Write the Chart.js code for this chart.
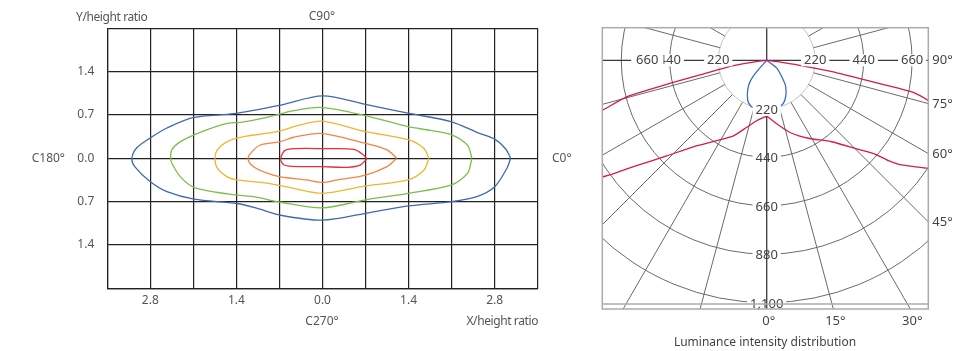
<!DOCTYPE html>
<html><head><meta charset="utf-8">
<script src="https://cdn.jsdelivr.net/npm/chart.js@4.4.1/dist/chart.umd.min.js"></script>
<style>
html,body{margin:0;padding:0;background:#fff;width:972px;height:351px;overflow:hidden;font-family:"Noto Sans","DejaVu Sans",sans-serif;}
canvas{position:absolute;}
.t{position:absolute;white-space:nowrap;color:#555;font-size:12px;line-height:14px;}
.n{letter-spacing:-0.4px;}
</style></head><body>
<canvas id="iso" width="580" height="351" style="left:0;top:0"></canvas>
<canvas id="polar" width="382" height="351" style="left:590px;top:0"></canvas>
<div class="t n" style="left:76px;top:10px">Y/height ratio</div>
<div class="t" style="left:322px;top:9px;transform:translateX(-50%)">C90°</div>
<div class="t" style="right:907px;top:151px">C180°</div>
<div class="t" style="left:552px;top:151px">C0°</div>
<div class="t" style="left:322px;top:314px;transform:translateX(-50%)">C270°</div>
<div class="t n" style="right:434px;top:314px">X/height ratio</div>
<div class="t" style="left:765px;top:335px;transform:translateX(-50%);color:#444">Luminance intensity distribution</div>
<script>
const FONT = '"Noto Sans", "DejaVu Sans", sans-serif';

// ---------- Isolux diagram (left) ----------
const xGridValues = [-3.5,-2.8,-2.1,-1.4,-0.7,0,0.7,1.4,2.1,2.8,3.5];
const yGridValues = [-2.1,-1.4,-0.7,0,0.7,1.4,2.1];
const xTickValues = [-2.8,-1.4,0,1.4,2.8];
const xTickLabels = ['2.8','1.4','0.0','1.4','2.8'];
const yTickValues = [-1.4,-0.7,0,0.7,1.4];
const yTickLabels = ['1.4','0.7','0.0','0.7','1.4'];

const contourBlueX = [3.06,2.98,2.80,2.51,2.10,1.39,0.70,0,-0.68,-1.44,-2.09,-2.53,-2.80,-3.02,-3.10,-3.05,-2.80,-2.53,-2.09,-1.39,-1.06,-0.68,0,0.70,1.39,2.10,2.51,2.80,3.00,3.06];
const contourBlueY = [0,0.15,0.31,0.42,0.59,0.73,0.87,1.01,0.86,0.72,0.66,0.49,0.33,0.17,0,-0.14,-0.38,-0.54,-0.66,-0.73,-0.81,-0.92,-1.00,-0.89,-0.77,-0.70,-0.62,-0.46,-0.16,0];
const contourGreenX = [2.43,2.36,2.10,1.76,1.39,0.70,0,-0.47,-0.90,-1.33,-1.55,-1.99,-2.31,-2.45,-2.47,-2.45,-2.31,-2.09,-1.55,-1.12,-0.68,0,0.70,1.39,2.10,2.36,2.43];
const contourGreenY = [0,0.21,0.38,0.45,0.51,0.69,0.82,0.77,0.66,0.58,0.565,0.42,0.27,0.14,0,-0.08,-0.30,-0.47,-0.575,-0.62,-0.71,-0.80,-0.67,-0.565,-0.43,-0.24,0];
const contourYellowX = [1.73,1.65,1.39,0.70,0,-0.36,-0.74,-1.28,-1.55,-1.71,-1.75,-1.71,-1.55,-1.39,-0.90,-0.47,0,0.70,1.39,1.65,1.73];
const contourYellowY = [0,0.16,0.30,0.43,0.60,0.54,0.43,0.35,0.27,0.135,0,-0.16,-0.30,-0.35,-0.40,-0.485,-0.565,-0.447,-0.35,-0.19,0];
const contourOrangeX = [1.21,1.05,0.70,0,-0.47,-0.68,-1.01,-1.17,-1.21,-1.12,-0.90,-0.68,-0.25,0,0.24,0.70,1.05,1.21];
const contourOrangeY = [0,0.135,0.24,0.40,0.34,0.27,0.215,0.08,-0.02,-0.135,-0.24,-0.30,-0.35,-0.39,-0.35,-0.27,-0.135,0];
const contourRedX = [0.72,0.66,0.51,0,-0.46,-0.62,-0.68,-0.63,-0.50,0,0.41,0.62,0.72];
const contourRedY = [-0.01,0.06,0.145,0.156,0.155,0.12,-0.02,-0.105,-0.13,-0.135,-0.145,-0.105,-0.01];

// ---------- Polar luminance diagram (right) ----------
const ringValues = [220,440,660,880,1100];
const radialAngles = [-165,-150,-135,-120,-105,-75,-60,-45,-30,-15,15,30,45,60,75,105,120,135,150,165];
const sideAngleLabels = [90,75,60,45];
const bottomAngleLabels = [0,15,30];
const redAngles = [0,-9.4,-16.6,-23.8,-31.9,-40.3,-46.3,-51.4,-54.6,-60,-66,-71,-73.1,-75.4,-76.0,-76.7,-77.6,-80.1,-81.8,0,82.4,81.5,80.1,78.7,78.0,77.5,76.0,72,66,60,56.2,52.2,50.5,49.1,45.1,38.6,28.1,18.9,10.2,0];
const redValues = [253,278,317,375,430,515,628,774,913,1080,1120,950,778,657,546,436,310,184,77,0,69,145,300,455,610,689,756,950,1100,1060,882,775,716,650,566,473,401,350,298,253];
const blueAngles = [0,-41.3,-38,-32.6,-25.6,-20.5,-16.6,-8,0,8,13.9,21.1,27.6,35.7,40.1,52,0];
const blueValues = [0,69,123,160,200,217,223,228,229,228,220,209,186,148,117,59,0];

function pts(xs, ys){ return xs.map((x,i)=>({x:x, y:ys[i]})); }
function polarPts(angles, values){
  return angles.map((a,i)=>{ const t=a*Math.PI/180; return {x: values[i]*Math.sin(t), y: -values[i]*Math.cos(t)}; });
}
function near(arr, v){ return arr.findIndex(a=>Math.abs(a-v)<1e-6); }

const contours = [
  {x: contourBlueX, y: contourBlueY, c: '#3f69b4'},
  {x: contourGreenX, y: contourGreenY, c: '#7bbf4a'},
  {x: contourYellowX, y: contourYellowY, c: '#f1b534'},
  {x: contourOrangeX, y: contourOrangeY, c: '#f48443'},
  {x: contourRedX, y: contourRedY, c: '#e5303b'}
];

new Chart(document.getElementById('iso'), {
  type: 'scatter',
  data: { datasets: contours.map(c=>({ data: pts(c.x,c.y), showLine: true, borderColor: c.c, borderWidth: 1.3, pointRadius: 0, tension: 0.3, fill: false })) },
  options: {
    responsive: false, animation: false, events: [],
    layout: { padding: { left: 0, right: 42.3, top: 28.3, bottom: 32.7 } },
    plugins: { legend: { display: false }, tooltip: { enabled: false } },
    scales: {
      x: { type: 'linear', min: -3.5, max: 3.5,
        afterBuildTicks: s => { s.ticks = xGridValues.map(v=>({value:v})); },
        afterFit: s => { s.height = 30; },
        grid: { color: '#222', lineWidth: 1.2, drawTicks: false },
        border: { color: '#222', width: 1.2 },
        ticks: { padding: 5, autoSkip: false, maxRotation: 0, color: '#555', font: { family: FONT, size: 12 },
          callback: v => { const i = near(xTickValues, v); return i < 0 ? '' : xTickLabels[i]; } } },
      y: { type: 'linear', min: -2.1, max: 2.1,
        afterBuildTicks: s => { s.ticks = yGridValues.map(v=>({value:v})); },
        afterFit: s => { s.width = 107.3; },
        grid: { color: '#222', lineWidth: 1.2, drawTicks: false },
        border: { color: '#222', width: 1.2 },
        ticks: { padding: 13, autoSkip: false, color: '#555', font: { family: FONT, size: 12 },
          callback: v => { const i = near(yTickValues, v); return i < 0 ? '' : yTickLabels[i]; } } }
    }
  }
});

const polarGrid = {
  id: 'polarGrid',
  beforeDatasetsDraw(chart) {
    const {ctx, chartArea: a, scales: {x, y}} = chart;
    const cx = x.getPixelForValue(0), cy = y.getPixelForValue(0);
    const k = (x.getPixelForValue(1000) - cx) / 1000;
    ctx.save();
    ctx.beginPath(); ctx.rect(a.left, a.top, a.right - a.left, a.bottom - a.top); ctx.clip();
    ctx.lineWidth = 1;
    ringValues.forEach((v, i) => {
      ctx.strokeStyle = i === 0 ? '#c4c4c4' : '#6a6a6a';
      ctx.beginPath(); ctx.arc(cx, cy, v * k, 0, Math.PI * 2); ctx.stroke();
    });
    ctx.strokeStyle = '#6a6a6a';
    const r0 = ringValues[0] * k, r1 = 4000 * k;
    radialAngles.forEach(ang => {
      const t = ang * Math.PI / 180, s = Math.sin(t), c = Math.cos(t);
      ctx.beginPath(); ctx.moveTo(cx + r0 * s, cy + r0 * c); ctx.lineTo(cx + r1 * s, cy + r1 * c); ctx.stroke();
    });
    ctx.strokeStyle = '#3a3a3a'; ctx.lineWidth = 1.3;
    ctx.beginPath(); ctx.moveTo(a.left, cy); ctx.lineTo(a.right, cy); ctx.stroke();
    ctx.beginPath(); ctx.moveTo(cx, a.top); ctx.lineTo(cx, cy); ctx.stroke();
    ctx.restore();
  },
  afterDatasetsDraw(chart) {
    const {ctx, chartArea: a, scales: {x, y}} = chart;
    const cx = x.getPixelForValue(0), cy = y.getPixelForValue(0);
    const k = (x.getPixelForValue(1000) - cx) / 1000;
    const fmt = v => v.toLocaleString('en-US');
    ctx.save();
    ctx.font = '13px ' + FONT; ctx.textAlign = 'center'; ctx.textBaseline = 'middle';
    const bg = (txt, px, py, pad) => { const w = ctx.measureText(txt).width; ctx.fillStyle = '#fff'; ctx.fillRect(px - w/2 - pad, py - 6, w + 2*pad, 12); };
    const tx = (txt, px, py) => { ctx.fillStyle = '#444'; ctx.fillText(txt, px, py + 0.5); };
    // vertical ring labels
    ringValues.forEach(v => bg(fmt(v), cx, cy + v * k + 1, 3));
    ctx.strokeStyle = '#3a3a3a'; ctx.lineWidth = 1.3;
    ctx.beginPath(); ctx.moveTo(cx, cy + ringValues[0] * k + 8); ctx.lineTo(cx, a.bottom); ctx.stroke();
    ringValues.forEach(v => tx(fmt(v), cx, cy + v * k + 1));
    // horizontal labels
    const hLab = ringValues.slice(0, 3);
    hLab.forEach(v => { bg(fmt(v), cx + v * k, cy, 3); tx(fmt(v), cx + v * k, cy); });
    hLab.forEach((v, i) => {
      const shifted = i === 2;
      const px = cx - v * k + (shifted ? 26 : 0);
      bg(fmt(v), px, cy, shifted ? 5 : 3); tx(fmt(v), px, cy);
    });
    // angle labels
    ctx.fillStyle = '#444'; ctx.textAlign = 'left';
    sideAngleLabels.forEach(ang => {
      const t = ang * Math.PI / 180;
      const py = ang === 90 ? cy : cy + (a.right - cx) / Math.tan(t);
      ctx.fillText(ang + '°', a.right + 4, py + 0.5);
    });
    ctx.textAlign = 'center';
    bottomAngleLabels.forEach(ang => {
      const t = ang * Math.PI / 180;
      ctx.fillText(ang + '°', cx + (a.bottom - cy) * Math.tan(t) + 2, a.bottom + 12);
    });
    // frame
    ctx.strokeStyle = '#ababab'; ctx.lineWidth = 1.5;
    ctx.strokeRect(a.left, a.top, a.right - a.left, a.bottom - a.top);
    ctx.beginPath(); ctx.moveTo(a.left, a.bottom - 5); ctx.lineTo(a.right, a.bottom - 5); ctx.stroke();
    ctx.restore();
  }
};

new Chart(document.getElementById('polar'), {
  type: 'scatter',
  data: { datasets: [
    { data: polarPts(redAngles, redValues), showLine: true, borderColor: '#d21c4f', borderWidth: 1.3, pointRadius: 0, tension: 0.2, fill: false },
    { data: polarPts(blueAngles, blueValues), showLine: true, borderColor: '#3a6bc0', borderWidth: 1.3, pointRadius: 0, tension: 0.3, fill: false }
  ] },
  options: {
    responsive: false, animation: false, events: [],
    layout: { padding: { left: 12.3, right: 43.7, top: 27.7, bottom: 42 } },
    plugins: { legend: { display: false }, tooltip: { enabled: false } },
    scales: {
      x: { type: 'linear', display: false, min: -746.1, max: 733.3 },
      y: { type: 'linear', display: false, min: -1128.6, max: 147.9 }
    }
  },
  plugins: [polarGrid]
});
</script>
</body></html>
